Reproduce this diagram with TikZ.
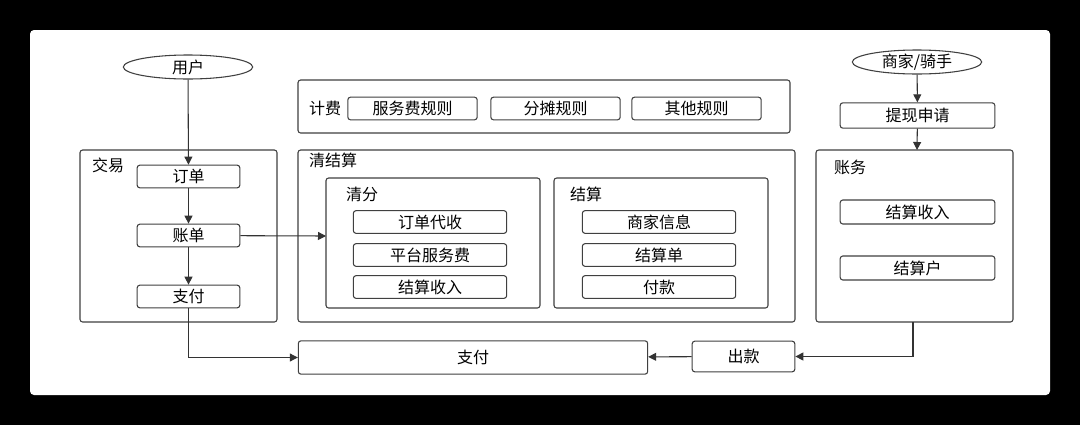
\documentclass[tikz,border=0pt]{standalone}
\usepackage{fontspec}
\setmainfont{Noto Sans CJK SC}
\usetikzlibrary{shapes.geometric,arrows.meta}
\tikzset{
  box/.style={draw=black!75,rounded corners=2pt,line width=0.8pt},
  item/.style={box,minimum height=17pt,inner sep=0pt},
  oval/.style={draw=black!75,ellipse,line width=0.8pt,minimum width=97pt,minimum height=18pt,inner sep=0pt},
  lbl/.style={inner sep=0pt},
  arr/.style={-{Triangle[length=6pt,width=6pt]},line width=0.8pt,draw=black!80},
}
\begin{document}
\begin{tikzpicture}[x=0.75pt,y=-0.75pt,font=\fontsize{12}{14}\selectfont]
\fill[black] (0,0) rectangle (1080,425);
\fill[white,rounded corners=3pt] (30,30) rectangle (1050,395);

% trade
\node[oval] (user) at (188,67) {用户};
\draw[box] (80,150) rectangle (277,322);
\node[lbl] (trade) at (108,165) {交易};
\node[item,minimum width=77pt] (order) at (188.5,176.5) {订单};
\node[item,minimum width=77pt] (bill) at (188.5,235.5) {账单};
\node[item,minimum width=77pt] (pay) at (188.5,296.5) {支付};

% fee
\draw[box] (298,80) rectangle (790,133);
\node[lbl] (fee) at (325,108) {计费};
\node[item,minimum width=97pt] (svc) at (412.5,108.5) {服务费规则};
\node[item,minimum width=97pt] (split) at (555.5,108.5) {分摊规则};
\node[item,minimum width=97pt] (other) at (696.5,108.5) {其他规则};

% clearing
\draw[box] (298,150) rectangle (795,322);
\node[lbl] (clear) at (333,160) {清结算};
\coordinate (cfw) at (326,236);
\draw[box] (326,178) rectangle (540,308);
\node[lbl] (cf) at (362,194) {清分};
\node[item,minimum width=115pt] (c1) at (430,222) {订单代收};
\node[item,minimum width=115pt] (c2) at (430,255) {平台服务费};
\node[item,minimum width=115pt] (c3) at (430,287) {结算收入};
\draw[box] (554,178) rectangle (768,308);
\node[lbl] (js) at (586,194) {结算};
\node[item,minimum width=115pt] (s1) at (659,222) {商家信息};
\node[item,minimum width=115pt] (s2) at (659,255) {结算单};
\node[item,minimum width=115pt] (s3) at (659,287) {付款};

% merchant
\node[oval] (merch) at (917,62) {商家/骑手};
\node[item,minimum width=116pt,minimum height=19pt] (apply) at (917.5,115.5) {提现申请};
\draw[box] (816,150) rectangle (1013,322);
\coordinate (acctop) at (917,150);
\coordinate (accbot) at (913,322);
\node[lbl] (acc) at (850,167) {账务};
\node[item,minimum width=116pt,minimum height=18pt] (a1) at (917.5,212) {结算收入};
\node[item,minimum width=116pt,minimum height=18pt] (a2) at (917.5,268) {结算户};

% bottom
\node[item,minimum width=262pt,minimum height=25pt] (paybot) at (473,357.5) {支付};
\node[item,minimum width=77pt,minimum height=23pt] (out) at (743.5,356.5) {出款};

\draw[arr] (user) -- (order);
\draw[arr] (order) -- (bill);
\draw[arr] (bill) -- (pay);
\draw[arr] (bill) -- (cfw);
\draw[arr] (pay) |- (paybot);
\draw[arr] (merch) -- (apply);
\draw[arr] (apply) -- (acctop);
\draw[arr] (accbot) |- (out);
\draw[arr] (out) -- (paybot);
\end{tikzpicture}
\end{document}
